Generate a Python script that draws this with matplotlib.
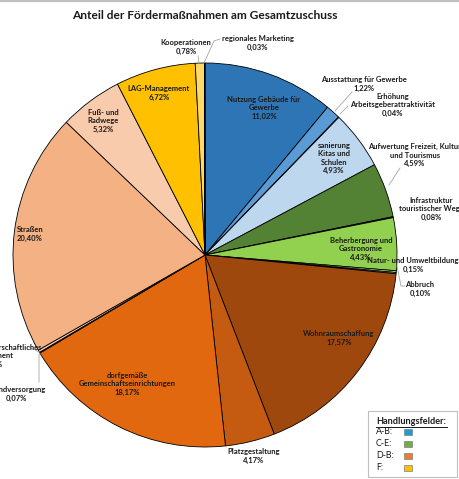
import matplotlib
matplotlib.use("Agg")
import matplotlib.pyplot as plt
from matplotlib.patches import Rectangle

plt.rcParams['font.family'] = ['Lato', 'DejaVu Sans']

# ---------------- data ----------------
categories = [
    "Nutzung Gebäude für\nGewerbe", "Ausstattung für Gewerbe", "Erhöhung\nArbeitsgeberattraktivität",
    "sanierung\nKitas und\nSchulen", "Aufwertung Freizeit, Kultur\nund Tourismus",
    "Infrastruktur\ntouristischer Wege", "Beherbergung und\nGastronomie",
    "Natur- und Umweltbildung", "Abbruch", "Wohnraumschaffung", "Platzgestaltung",
    "dorfgemäße\nGemeinschaftseinrichtungen", "Grundversorgung",
    "Förderung bürgerschaftliches\nEngagement", "Straßen", "Fuß- und\nRadwege",
    "LAG-Management", "Kooperationen", "regionales Marketing",
]
values = [11.02, 1.22, 0.04, 4.93, 4.59, 0.08, 4.43, 0.15, 0.10, 17.57, 4.17,
          18.17, 0.07, 0.21, 20.40, 5.32, 6.72, 0.78, 0.03]
pct_labels = ["11,02%", "1,22%", "0,04%", "4,93%", "4,59%", "0,08%", "4,43%", "0,15%",
              "0,10%", "17,57%", "4,17%", "18,17%", "0,07%", "0,21%", "20,40%", "5,32%",
              "6,72%", "0,78%", "0,03%"]
colors = ["#2E75B6", "#5B9BD5", "#9DC3E6", "#BDD7EE", "#548235", "#385723", "#92D050",
          "#A9D18E", "#C5E0B4", "#9E480E", "#C55A11", "#E2680F", "#F4B183", "#F8CBAD",
          "#F4B183", "#F8CBAD", "#FFC000", "#FFD966", "#FFE699"]

legend_groups = ["A-B:", "C-E:", "D-B:", "F:"]
legend_colors = ["#1A9BDB", "#70AD47", "#ED7D31", "#FFC000"]

title = "Anteil der Fördermaßnahmen am Gesamtzuschuss"

# ---------------- layout (pixel coordinates, y from top) ----------------
W, H = 460, 479
CX, CY, R = 205, 255, 192
label_pos = [
    (264, 108), (364, 84), (393, 105), (334, 158), (415, 155), (431, 209), (361, 249),
    (413, 265), (420, 289), (339, 338), (254, 456), (127, 384), (16, 394), (-8, 356),
    (30, 234), (103, 121), (159, 93), (186, 47), (258, 43),
]
leaders = [
    None, [(335, 111), (352, 92)], [(340, 114), (348, 106)], None,
    [(389, 185), (400, 168)], None, None, None,
    [(397, 266), (401, 286), (405, 286)], None, None, None,
    [(40, 353), (39, 355), (39, 382)], [(39, 352), (29, 347)], None, None, None,
    [(199, 63), (198, 56)], [(204, 63), (214, 41), (220, 39)],
]

fig = plt.figure(figsize=(W / 100, H / 100), dpi=100)
ax = fig.add_axes([0, 0, 1, 1])

def py(y):
    return H - y

ax.pie(values, colors=colors, startangle=90, counterclock=False,
       center=(CX, py(CY)), radius=R,
       wedgeprops=dict(edgecolor="black", linewidth=0.6))
ax.set_xlim(0, W)
ax.set_ylim(0, H)
ax.set_aspect("equal")
ax.axis("off")

fs = 5.5
for cat, pct, (x, y) in zip(categories, pct_labels, label_pos):
    ax.text(x, py(y), cat + "\n" + pct, ha="center", va="center", fontsize=fs,
            fontweight="bold", color="#1a1a1a", linespacing=1.2)

for ld in leaders:
    if ld:
        xs = [p[0] for p in ld]
        ys = [py(p[1]) for p in ld]
        ax.plot(xs, ys, color="#A6A6A6", lw=0.6)

ax.text(205, py(15), title, ha="center", va="center", fontsize=8.6, fontweight="bold",
        color="#1a1a1a")

# top border line
ax.plot([0, W], [py(0.6), py(0.6)], color="#BFBFBF", lw=1.5)

# legend box
ax.add_patch(Rectangle((368, py(477)), 89, 66, facecolor="white", edgecolor="#BFBFBF", lw=0.8))
ax.text(376, py(421), "Handlungsfelder:", ha="left", va="center", fontsize=6.6,
        fontweight="bold", color="#1a1a1a")
ax.plot([376, 447], [py(426.5), py(426.5)], color="#1a1a1a", lw=0.7)
for i, (g, c) in enumerate(zip(legend_groups, legend_colors)):
    yy = 432 + i * 12
    ax.text(376, py(yy), g, ha="left", va="center", fontsize=6.4, color="#1a1a1a")
    ax.add_patch(Rectangle((404, py(yy + 3)), 8, 6, facecolor=c, edgecolor="#7F7F7F", lw=0.5))

fig.savefig("out.png", dpi=100)
